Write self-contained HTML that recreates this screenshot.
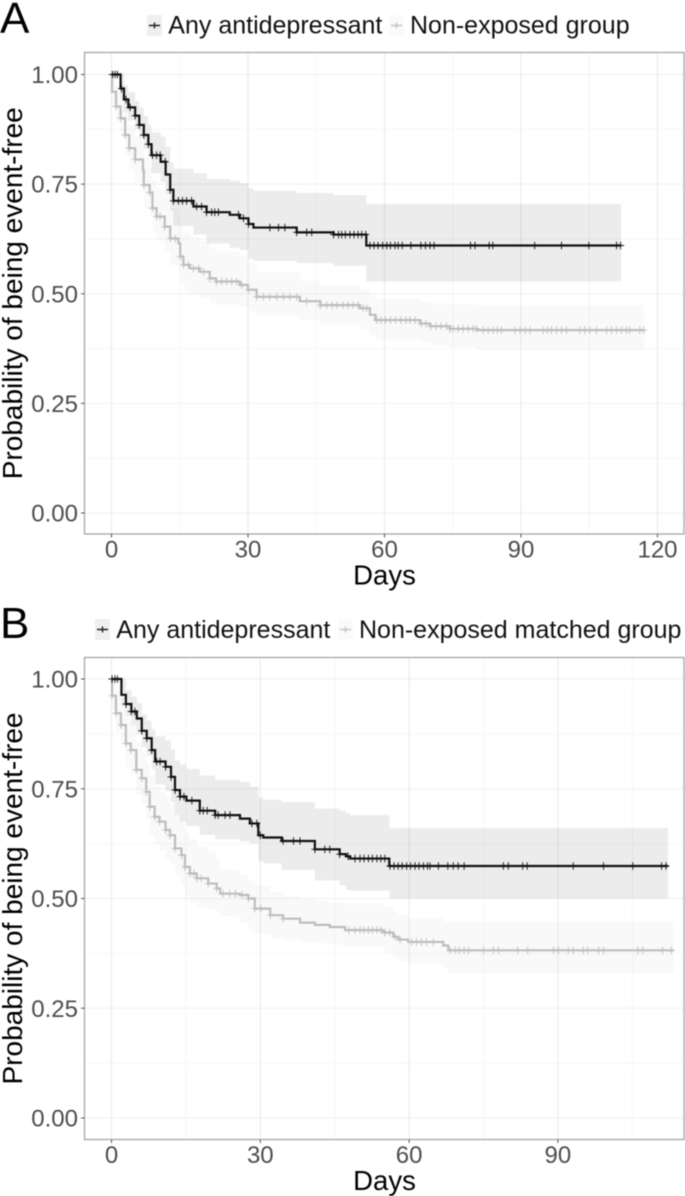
<!DOCTYPE html>
<html lang="en">
<head>
<meta charset="utf-8">
<title>Probability of being event-free</title>
<style>
html,body{margin:0;padding:0;background:#fff;width:685px;height:1196px;overflow:hidden}
svg{display:block;filter:blur(0.5px);font-family:"Liberation Sans",sans-serif}
</style>
</head>
<body>
<svg id="chart" xmlns="http://www.w3.org/2000/svg" width="685" height="1196" viewBox="0 0 685 1196"></svg>
<script>
// Shared tick labels
const yTickValues = [0, 0.25, 0.5, 0.75, 1];
const yTickLabels = ["0.00", "0.25", "0.50", "0.75", "1.00"];
const yMinorValues = [0.125, 0.375, 0.625, 0.875];
const xTicksA = [0, 30, 60, 90, 120];
const xMinorA = [15, 45, 75, 105];
const xTicksB = [0, 30, 60, 90];
const xMinorB = [15, 45, 75, 105];

// Panel A, any antidepressant
const aDrugTime = [0, 2, 2.75, 3.7, 5.2, 6.1, 7.1, 8.1, 8.8, 10.8, 11.9, 12.9, 13.6, 18, 20.9, 26, 28.2, 30.1, 31.2, 40.7, 48.8, 56];
const aDrugSurv = [1, .968, .943, .925, .906, .885, .862, .841, .816, .801, .772, .737, .712, .699, .686, .68, .672, .659, .651, .64, .635, .61];
const aDrugUpper = [1, 1, .975, .96, .94, .925, .905, .885, .868, .858, .835, .8, .785, .775, .762, .758, .752, .74, .735, .73, .725, .705];
const aDrugLower = [1, .945, .915, .895, .875, .855, .83, .81, .775, .755, .725, .69, .655, .635, .615, .605, .6, .58, .575, .57, .564, .528];
const aDrugEnd = 112;
const aDrugCensor = [.25, .8, 1.3, 2.2, 3.2, 4.1, 5.2, 6.1, 7.1, 8.1, 9, 9.9, 10.7, 11.8, 12.9, 13.6, 14.7, 15.6, 16.5, 17.6, 18.7, 19.8, 20.9, 22, 22.7, 23.5, 27.9, 29, 30.1, 34.8, 36.7, 38.1, 40.7, 42.9, 44, 48.8, 49.9, 50.6, 51.4, 52.4, 53.3, 54.2, 55, 55.9, 56.8, 57.7, 58.6, 59.6, 60.5, 61.3, 62.3, 63, 63.9, 65.8, 68, 69, 70, 70.9, 78.9, 79.9, 83, 83.8, 93, 98.9, 104.9, 111, 111.9];

// Panel A, non-exposed group
const aCtrlTime = [0, .1, 1, 2, 3, 3.9, 5.2, 6.9, 7.1, 8.4, 9, 9.9, 11.7, 12.9, 14.7, 15.1, 15.8, 17.2, 19.4, 21.6, 23, 28.2, 30, 31.9, 41.4, 45.9, 54.6, 56.8, 58, 67.8, 70, 74.4, 80.3];
const aCtrlSurv = [1, .961, .927, .9, .862, .832, .806, .782, .748, .731, .695, .676, .653, .626, .615, .585, .566, .558, .55, .535, .528, .52, .509, .493, .483, .474, .467, .452, .44, .432, .426, .42, .417];
const aCtrlUpper = [1, 1, .975, .95, .915, .885, .86, .84, .81, .79, .76, .74, .72, .695, .68, .655, .64, .63, .62, .605, .595, .585, .57, .55, .53, .52, .512, .497, .488, .482, .478, .476, .474];
const aCtrlLower = [1, .93, .89, .855, .815, .785, .755, .73, .695, .68, .64, .62, .595, .565, .555, .525, .505, .5, .49, .48, .475, .47, .46, .45, .44, .43, .42, .405, .395, .39, .382, .378, .373];
const aCtrlEnd = 117;
const aCtrlCensor = [0, 1, 2, 3, 3.9, 5.2, 7.1, 8.4, 9, 9.9, 10.7, 11.7, 12.9, 14, 15.1, 15.8, 16.9, 18, 19.1, 20.2, 21.6, 23.1, 24.2, 25.3, 26.4, 27.5, 28.6, 30.1, 31.9, 33.4, 34.8, 36.3, 37.8, 39.2, 40.7, 42.9, 45.9, 47.3, 48.5, 49.5, 50.9, 52, 53.1, 54.2, 55.3, 56.1, 58.3, 59.2, 60.2, 61.3, 62.4, 63.6, 64.7, 65.6, 66.7, 68.1, 69.1, 70.2, 71.3, 72.4, 73.6, 74.4, 75.1, 76.2, 77.3, 78.4, 79.5, 80.2, 81.7, 82.8, 83.9, 84.8, 85.7, 88.7, 89.8, 90.9, 92, 94.9, 95.8, 96.7, 97.8, 98.9, 100, 102.9, 104, 105.1, 106.6, 108.8, 109.9, 111, 112.1, 113.2, 113.9, 116.1, 117];

// Panel B, any antidepressant
const bDrugTime = [0, 2, 2.9, 4, 5.1, 6.1, 7.1, 8.1, 8.8, 10.9, 12, 12.8, 13.8, 15.1, 17.8, 20.9, 25.9, 27.9, 29.6, 30.6, 34.3, 41, 46, 47.3, 48.1, 56];
const bDrugSurv = [1, .964, .943, .926, .91, .882, .865, .838, .812, .8, .777, .747, .732, .723, .7, .69, .682, .671, .644, .639, .631, .612, .601, .596, .591, .574];
const bDrugUpper = [1, 1, .975, .96, .945, .92, .905, .885, .87, .86, .84, .815, .805, .795, .78, .77, .765, .755, .73, .725, .72, .705, .7, .695, .69, .66];
const bDrugLower = [1, .94, .915, .895, .875, .845, .825, .795, .76, .745, .72, .69, .675, .665, .645, .635, .63, .625, .585, .58, .565, .541, .53, .52, .518, .5];
const bDrugEnd = 112.2;
const bDrugCensor = [.1, .7, 1.2, 2.9, 4, 4.7, 6.1, 7.1, 8.1, 9.1, 9.8, 10.9, 12, 12.8, 13.8, 14.6, 16.2, 17.8, 18.5, 19.3, 20.9, 21.5, 22.9, 23.9, 28.3, 29.3, 30, 34.6, 36.7, 38, 41, 43, 44, 46, 47.7, 49.1, 50.1, 50.9, 51.8, 52.6, 53.5, 54.3, 55.1, 56.15, 56.96, 57.8, 58.6, 59.5, 60.3, 61.2, 62, 62.9, 63.7, 64.2, 65.9, 67.8, 68.9, 69.9, 71.1, 79, 80, 82.9, 83.8, 93.1, 99.2, 105.1, 110.9, 111.8];

// Panel B, non-exposed matched group
const bCtrlTime = [0, .1, .9, 1.9, 2.9, 3.9, 5, 6.1, 7, 7.7, 8.7, 9.7, 10.9, 11.8, 12.8, 14.1, 14.8, 15.8, 17.2, 19.5, 21.2, 21.9, 25.9, 27.6, 28.9, 32, 34.6, 38, 41, 44, 47.1, 54.8, 56.8, 57.8, 59.8, 66.9, 67.9];
const bCtrlSurv = [1, .962, .922, .895, .853, .838, .793, .774, .743, .709, .686, .675, .656, .644, .614, .599, .572, .557, .546, .534, .523, .511, .508, .5, .477, .462, .454, .445, .44, .435, .428, .4225, .4125, .4065, .401, .393, .382];
const bCtrlUpper = [1, 1, .97, .945, .91, .895, .855, .835, .81, .78, .755, .745, .73, .715, .69, .675, .65, .635, .62, .605, .59, .565, .555, .54, .53, .515, .505, .5, .495, .49, .488, .482, .47, .463, .455, .447, .447];
const bCtrlLower = [1, .93, .88, .85, .8, .785, .735, .715, .68, .645, .625, .61, .59, .58, .55, .53, .505, .49, .48, .475, .47, .46, .445, .43, .42, .41, .405, .4, .398, .395, .39, .378, .365, .358, .352, .342, .33];
const bCtrlEnd = 113.3;
const bCtrlCensor = [.1, .9, 1.9, 2.9, 3.9, 5, 6.1, 7, 7.7, 8.7, 9.7, 10.9, 11.8, 12.8, 14.1, 14.8, 15.8, 16.6, 17.2, 18.1, 19.5, 21.2, 22.5, 23.8, 25, 26.3, 27.6, 28.9, 30.1, 32, 34.6, 47.9, 49.1, 50.1, 50.9, 51.8, 52.6, 53.5, 54.3, 55.1, 56.1, 57.2, 58.2, 60.5, 61.5, 62.5, 63.5, 64.9, 68.3, 69.3, 70.1, 71.1, 72, 75, 77, 78, 81.9, 83.9, 89.1, 90.1, 92.1, 93.1, 95.1, 96, 98.2, 99.2, 106.1, 107.1, 111.1, 112.9];

const svg = document.getElementById('chart');
const NS = 'http://www.w3.org/2000/svg';
function make(tag, attrs, parent, txt) {
  const el = document.createElementNS(NS, tag);
  for (const k in attrs) el.setAttribute(k, attrs[k]);
  if (txt !== undefined) el.textContent = txt;
  parent.appendChild(el);
  return el;
}
function survAt(times, vals, t) {
  let v = vals[0];
  for (let i = 0; i < times.length; i++) if (times[i] <= t) v = vals[i];
  return v;
}
function stepPath(times, vals, end, sx, sy) {
  let d = 'M' + sx(times[0]).toFixed(2) + ' ' + sy(vals[0]).toFixed(2);
  for (let i = 1; i < times.length; i++) {
    d += 'H' + sx(times[i]).toFixed(2) + 'V' + sy(vals[i]).toFixed(2);
  }
  return d + 'H' + sx(end).toFixed(2);
}
function bandPath(times, up, lo, end, sx, sy) {
  const top = stepPath(times, up, end, sx, sy);
  let d = top + 'V' + sy(lo[lo.length - 1]).toFixed(2);
  for (let i = times.length - 1; i >= 1; i--) {
    d += 'H' + sx(times[i]).toFixed(2) + 'V' + sy(lo[i - 1]).toFixed(2);
  }
  return d + 'H' + sx(times[0]).toFixed(2) + 'Z';
}
function drawSeries(g, s, sx, sy, key) {
  const band = make('path', {d: bandPath(s.time, s.upper, s.lower, s.end, sx, sy), fill: s.color, 'fill-opacity': s.bandOpacity, stroke: 'none'}, g);
  
  
  const line = make('path', {d: stepPath(s.time, s.surv, s.end, sx, sy), fill: 'none', stroke: s.color, 'stroke-width': 2.2}, g);
  
  
  const marks = make('g', {stroke: s.color, 'stroke-width': 0.9}, g);
  
  
  s.censor.forEach(function (t) {
    const x = sx(t), y = sy(survAt(s.time, s.surv, t));
    const m = make('path', {d: 'M' + (x - 3.5).toFixed(2) + ' ' + y.toFixed(2) + 'h7M' + x.toFixed(2) + ' ' + (y - 3.8).toFixed(2) + 'v7.6', fill: 'none'}, marks);
    
    
  });
}
function drawPanel(p) {
  const root = make('g', {}, svg);
  
  
  const sx = function (t) { return p.x0 + t * p.pxPerDay; };
  const sy = function (v) { return p.y0 - v * p.pxPerUnit; };

  const tag = make('text', {x: p.tagX, y: p.tagY, 'font-size': 44, fill: '#000'}, root, p.id);
  
  

  // legend
  const legend = make('g', {}, root);
  
  
  make('rect', {x: p.key1X, y: p.keyY, width: 15, height: 21, fill: '#efefef'}, legend);
  make('path', {d: 'M' + (p.key1X + 2) + ' ' + (p.keyY + 10.5) + 'h11M' + (p.key1X + 7.5) + ' ' + (p.keyY + 7.5) + 'v6', stroke: '#222', 'stroke-width': 1.4, fill: 'none'}, legend);
  const l1 = make('text', {x: p.key1X + 21.3, y: p.legendY, 'font-size': 25, fill: '#111'}, legend, 'Any antidepressant');
  
  
  make('rect', {x: p.key2X, y: p.keyY, width: 15, height: 21, fill: '#fafafa'}, legend);
  make('path', {d: 'M' + (p.key2X + 2) + ' ' + (p.keyY + 10.5) + 'h11M' + (p.key2X + 7.5) + ' ' + (p.keyY + 7.5) + 'v6', stroke: '#c4c4c4', 'stroke-width': 1.4, fill: 'none'}, legend);
  const l2 = make('text', {x: p.key2X + 21, y: p.legendY, 'font-size': 25, fill: '#111'}, legend, p.ctrlName);
  
  

  // panel background + grid
  const grid = make('g', {fill: 'none'}, root);
  
  
  yMinorValues.forEach(function (v) {
    make('line', {x1: p.left, x2: p.right, y1: sy(v), y2: sy(v), stroke: '#f5f5f5', 'stroke-width': .8}, grid);
  });
  p.xMinor.forEach(function (t) {
    if (sx(t) < p.right) make('line', {x1: sx(t), x2: sx(t), y1: p.top, y2: p.bottom, stroke: '#f3f3f3', 'stroke-width': .8}, grid);
  });
  yTickValues.forEach(function (v) {
    make('line', {x1: p.left, x2: p.right, y1: sy(v), y2: sy(v), stroke: '#efefef', 'stroke-width': 1}, grid);
  });
  p.xTicks.forEach(function (t) {
    make('line', {x1: sx(t), x2: sx(t), y1: p.top, y2: p.bottom, stroke: '#e9e9e9', 'stroke-width': 1}, grid);
  });

  // series: control band and line first, then drug
  drawSeries(root, p.ctrl, sx, sy, 'non-exposed');
  drawSeries(root, p.drug, sx, sy, 'antidepressant');

  const border = make('rect', {x: p.left, y: p.top, width: p.right - p.left, height: p.bottom - p.top, fill: 'none', stroke: '#a0a0a0', 'stroke-width': 1.2}, root);
  
  

  // axes
  const yAxis = make('g', {}, root);
  
  
  yTickValues.forEach(function (v, i) {
    make('line', {x1: p.left - 3.5, x2: p.left, y1: sy(v), y2: sy(v), stroke: '#555', 'stroke-width': 1}, yAxis);
    const tl = make('text', {x: 78, y: sy(v) + 8.5, 'text-anchor': 'end', 'font-size': 24, fill: '#4d4d4d'}, yAxis, yTickLabels[i]);
    
    
  });
  const xAxis = make('g', {}, root);
  
  
  p.xTicks.forEach(function (t) {
    make('line', {x1: sx(t), x2: sx(t), y1: p.bottom, y2: p.bottom + 3.5, stroke: '#555', 'stroke-width': 1}, xAxis);
    const tl = make('text', {x: sx(t), y: p.bottom + 23.5, 'text-anchor': 'middle', 'font-size': 24, fill: '#4d4d4d'}, xAxis, String(t));
    
    
  });
  const xt = make('text', {x: 384.5, y: p.bottom + 50.5, 'text-anchor': 'middle', 'font-size': 27.5, fill: '#000'}, root, 'Days');
  
  
  const cy = (p.top + p.bottom) / 2;
  const yt = make('text', {transform: 'translate(22 ' + cy + ') rotate(-90)', 'text-anchor': 'middle', 'font-size': 28, fill: '#000'}, root, 'Probability of being event-free');
  
  
}

drawPanel({
  id: 'A', tagX: 0, tagY: 33, ctrlName: 'Non-exposed group',
  key1X: 147, key2X: 389, keyY: 15, legendY: 33.5,
  left: 84.5, right: 684, top: 52.5, bottom: 534,
  x0: 111.5, pxPerDay: 4.55, y0: 513, pxPerUnit: 438.5,
  xTicks: xTicksA, xMinor: xMinorA,
  drug: {time: aDrugTime, surv: aDrugSurv, upper: aDrugUpper, lower: aDrugLower, end: aDrugEnd, censor: aDrugCensor, color: '#111111', bandOpacity: .08},
  ctrl: {time: aCtrlTime, surv: aCtrlSurv, upper: aCtrlUpper, lower: aCtrlLower, end: aCtrlEnd, censor: aCtrlCensor, color: '#bdbdbd', bandOpacity: .09}
});
drawPanel({
  id: 'B', tagX: 0, tagY: 638, ctrlName: 'Non-exposed matched group',
  key1X: 95, key2X: 338, keyY: 619, legendY: 638,
  left: 84.5, right: 684, top: 657.5, bottom: 1139.5,
  x0: 111.5, pxPerDay: 4.96, y0: 1118, pxPerUnit: 439,
  xTicks: xTicksB, xMinor: xMinorB,
  drug: {time: bDrugTime, surv: bDrugSurv, upper: bDrugUpper, lower: bDrugLower, end: bDrugEnd, censor: bDrugCensor, color: '#111111', bandOpacity: .08},
  ctrl: {time: bCtrlTime, surv: bCtrlSurv, upper: bCtrlUpper, lower: bCtrlLower, end: bCtrlEnd, censor: bCtrlCensor, color: '#bdbdbd', bandOpacity: .09}
});
</script>
</body>
</html>
